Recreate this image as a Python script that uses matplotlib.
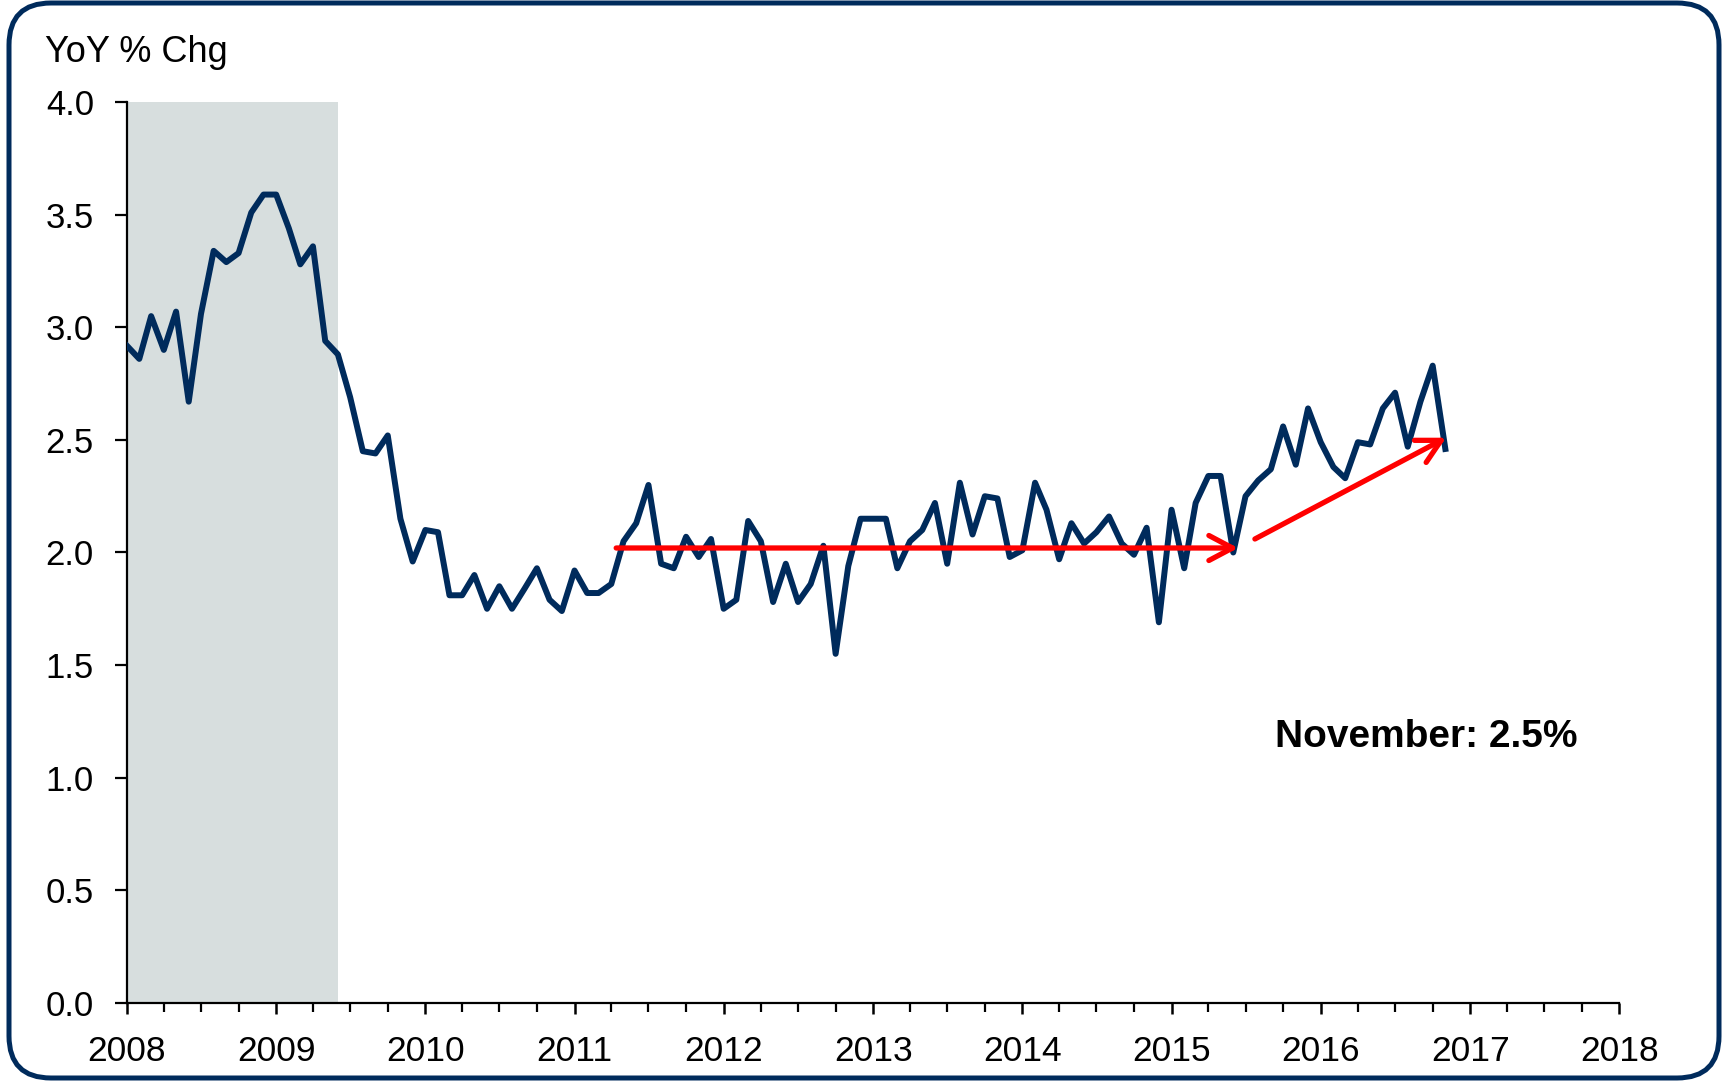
import matplotlib
matplotlib.use('Agg')
import matplotlib.pyplot as plt
import matplotlib.dates as mdates
import matplotlib.patches as mpatches
import matplotlib.transforms as mtransforms
import pandas as pd

plt.rcParams['font.family'] = ['Liberation Sans', 'DejaVu Sans']

# YoY % change, monthly from Jan 2008 to Nov 2016
yoy = [2.92, 2.86, 3.05, 2.90, 3.07, 2.67, 3.06, 3.34, 3.29, 3.33, 3.51, 3.59,
       3.59, 3.44, 3.28, 3.36, 2.94, 2.88, 2.69, 2.45, 2.44, 2.52, 2.15, 1.96,
       2.10, 2.09, 1.81, 1.81, 1.90, 1.75, 1.85, 1.75, 1.84, 1.93, 1.79, 1.74,
       1.92, 1.82, 1.82, 1.86, 2.05, 2.13, 2.30, 1.95, 1.93, 2.07, 1.98, 2.06,
       1.75, 1.79, 2.14, 2.05, 1.78, 1.95, 1.78, 1.86, 2.03, 1.55, 1.94, 2.15,
       2.15, 2.15, 1.93, 2.05, 2.10, 2.22, 1.95, 2.31, 2.08, 2.25, 2.24, 1.98,
       2.01, 2.31, 2.19, 1.97, 2.13, 2.04, 2.09, 2.16, 2.04, 1.99, 2.11, 1.69,
       2.19, 1.93, 2.22, 2.34, 2.34, 2.00, 2.25, 2.32, 2.37, 2.56, 2.39, 2.64,
       2.49, 2.38, 2.33, 2.49, 2.48, 2.64, 2.71, 2.47, 2.67, 2.83, 2.46]
months = pd.date_range('2008-01-01', periods=len(yoy), freq='MS')

recession = ('2008-01-01', '2009-06-01')
flat_arrow = (('2011-04-13', 2.02), ('2015-06-13', 2.02))
rise_arrow = (('2015-07-24', 2.06), ('2016-11-03', 2.51))
note = 'November: 2.5%'

navy = '#002b5c'

fig = plt.figure(figsize=(17.25, 10.81), dpi=100)
ax = fig.add_axes([0.0734, 0.0724, 0.8654, 0.833])

ax.axvspan(pd.Timestamp(recession[0]), pd.Timestamp(recession[1]), ymin=0, ymax=1,
           color='#d7dede', lw=0, zorder=0)
ax.plot(months, yoy, color=navy, lw=4.3, zorder=3)

for (x0, y0), (x1, y1) in [flat_arrow, rise_arrow]:
    ax.annotate('', xy=(mdates.date2num(pd.Timestamp(x1)), y1),
                xytext=(mdates.date2num(pd.Timestamp(x0)), y0),
                arrowprops=dict(arrowstyle='->,head_length=0.85,head_width=0.45',
                                color='#ff0000', lw=3.8, shrinkA=0, shrinkB=0,
                                mutation_scale=20),
                zorder=4)

ax.set_xlim(pd.Timestamp('2008-01-01'), pd.Timestamp('2018-01-01'))
ax.set_ylim(0, 4.0)
ax.set_yticks([0, 0.5, 1.0, 1.5, 2.0, 2.5, 3.0, 3.5, 4.0])
ax.yaxis.set_major_formatter(plt.FormatStrFormatter('%.1f'))
ax.xaxis.set_major_locator(mdates.YearLocator())
ax.xaxis.set_major_formatter(mdates.DateFormatter('%Y'))
ax.xaxis.set_minor_locator(mdates.MonthLocator(bymonth=(4, 7, 10)))

for s in ['top', 'right']:
    ax.spines[s].set_visible(False)
for s in ['left', 'bottom']:
    ax.spines[s].set_linewidth(1.6)
ax.tick_params(axis='y', which='major', direction='out', length=8.5, width=1.6,
               pad=15, labelsize=25)
ax.tick_params(axis='x', which='major', direction='out', length=8, width=1.8,
               pad=15, labelsize=25.5)
ax.tick_params(axis='x', which='minor', direction='out', length=6.5, width=1.6)
ax.patch.set_alpha(0)

fig.text(45 / 1725, 1 - 62 / 1081, 'YoY % Chg', fontsize=26, ha='left', va='baseline')
ax.text(0.8706, 0.295, note, transform=ax.transAxes, fontsize=28, fontweight='bold',
        ha='center', va='center')

# rounded frame around the whole picture (pixel coordinates)
frame = mpatches.FancyBboxPatch((9, 3), 1710, 1075,
                                boxstyle='round,pad=0,rounding_size=42',
                                transform=mtransforms.IdentityTransform(),
                                fill=False, ec=navy, lw=3.6)
fig.add_artist(frame)

fig.savefig('out.png', dpi=100)
